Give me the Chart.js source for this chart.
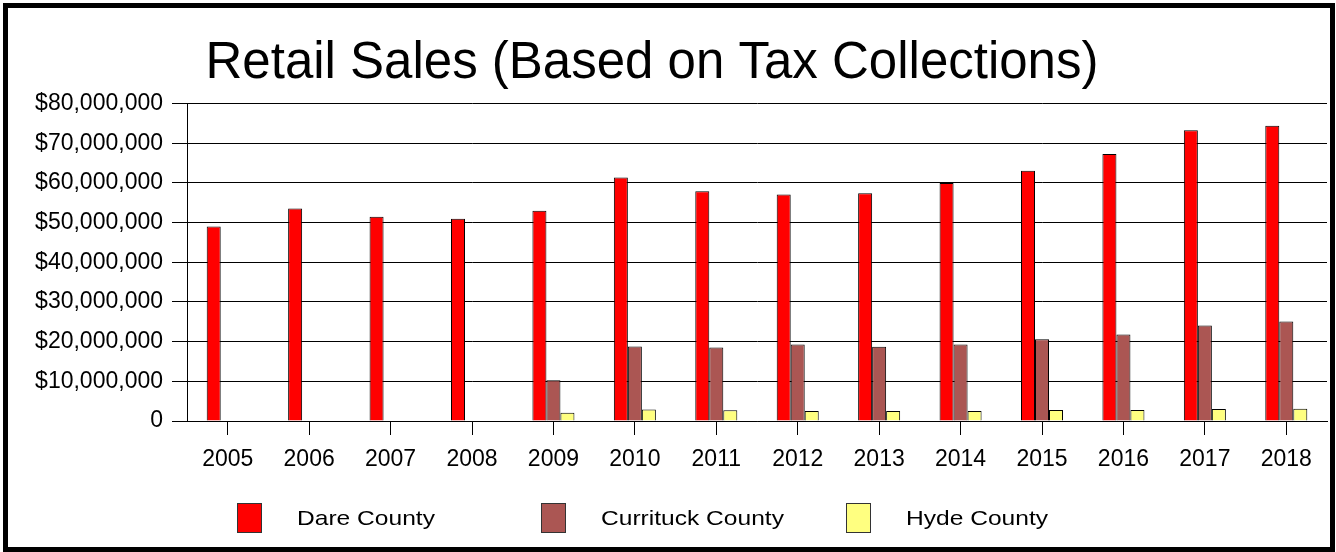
<!DOCTYPE html>
<html>
<head>
<meta charset="utf-8">
<script src="https://cdn.jsdelivr.net/npm/chart.js@4"></script>
<style>
    body { margin: 0; background: #fff; overflow: hidden; }
    #wrap { position: relative; width: 1336px; height: 552px; overflow: hidden; }
    #salesChart { position: absolute; left: -23px; top: 0; }
    #frame {
        position: absolute; left: 3px; top: 3px; width: 1332px; height: 549px;
        box-sizing: border-box; border: 5px solid #000; pointer-events: none;
    }
    #legend { position: absolute; left: 0; top: 503px; width: 1336px; height: 30px; }
    .item { position: absolute; top: 0; height: 30px; }
    .box { position: absolute; left: 0; top: 0; width: 25px; height: 30px; box-sizing: border-box; border: 1px solid #333; }
    .label {
        position: absolute; left: 60px; top: 3px; white-space: nowrap;
        font: 21px "Liberation Sans", Arial, sans-serif; color: #000;
        transform: scaleX(1.17); transform-origin: left center;
    }
</style>
</head>
<body>
<div id="wrap">
    <canvas id="salesChart" width="1359" height="552"></canvas>
    <div id="legend"></div>
    <div id="frame"></div>
</div>
<script>
// Chart data
const years = ['2005', '2006', '2007', '2008', '2009', '2010', '2011', '2012', '2013', '2014', '2015', '2016', '2017', '2018'];
const dareCounty = [49.0, 53.6, 51.5, 51.0, 53.0, 61.4, 57.9, 57.1, 57.4, 60.0, 63.1, 67.3, 73.3, 74.4].map(v => v * 1e6);
const currituckCounty = [null, null, null, null, 10.3, 18.8, 18.5, 19.3, 18.7, 19.3, 20.6, 21.8, 24.1, 25.1].map(v => v === null ? null : v * 1e6);
const hydeCounty = [null, null, null, null, 2.1, 2.9, 2.7, 2.5, 2.5, 2.5, 2.8, 2.8, 3.0, 3.1].map(v => v === null ? null : v * 1e6);
const yTicks = [0, 10e6, 20e6, 30e6, 40e6, 50e6, 60e6, 70e6, 80e6];

const seriesNames = ['Dare County', 'Currituck County', 'Hyde County'];
const seriesColors = ['#ff0000', '#ab5653', '#ffff80'];

const font = { family: '"Liberation Sans", Arial, sans-serif', size: 23 };

const datasets = [dareCounty, currituckCounty, hydeCounty].map((values, i) => ({
    label: seriesNames[i],
    data: values,
    backgroundColor: seriesColors[i],
    borderColor: '#000',
    borderWidth: 1,
    categoryPercentage: 0.516,
    barPercentage: 1.0
}));

function formatMoney(value) {
    if (value === 0) return '0';
    return '$' + value.toLocaleString('en-US');
}

new Chart(document.getElementById('salesChart').getContext('2d'), {
    type: 'bar',
    data: { labels: years, datasets: datasets },
    options: {
        responsive: false,
        animation: false,
        layout: { padding: { left: 0, right: 9, top: 0, bottom: 81 } },
        plugins: {
            legend: { display: false },
            tooltip: { enabled: false },
            title: {
                display: true,
                text: 'Retail Sales (Based on Tax Collections)',
                color: '#000',
                font: { family: '"Liberation Sans", Arial, sans-serif', size: 51, weight: 'normal', lineHeight: 1.15 },
                padding: { top: 35, bottom: 10 }
            }
        },
        scales: {
            x: {
                grid: { display: true, drawOnChartArea: false, offset: false, color: '#000', tickLength: 14 },
                border: { display: true, color: '#000' },
                ticks: { color: '#000', font: font, padding: 11, maxRotation: 0 },
                afterFit: scale => { scale.height = 50; }
            },
            y: {
                min: 0,
                max: 80e6,
                afterBuildTicks: scale => { scale.ticks = yTicks.map(v => ({ value: v })); },
                grid: { color: '#000', lineWidth: 1, tickLength: 15 },
                border: { display: true, color: '#000' },
                ticks: { color: '#000', font: font, padding: 9, callback: v => formatMoney(v) },
                afterFit: scale => { scale.width = 210; }
            }
        }
    }
});

// Legend in fixed columns
const legendLeft = [237, 541, 846];
const legendEl = document.getElementById('legend');
seriesNames.forEach((name, i) => {
    const item = document.createElement('div');
    item.className = 'item';
    item.style.left = legendLeft[i] + 'px';
    item.innerHTML = `<div class="box" style="background:${seriesColors[i]}"></div><span class="label">${name}</span>`;
    legendEl.appendChild(item);
});
</script>
</body>
</html>
